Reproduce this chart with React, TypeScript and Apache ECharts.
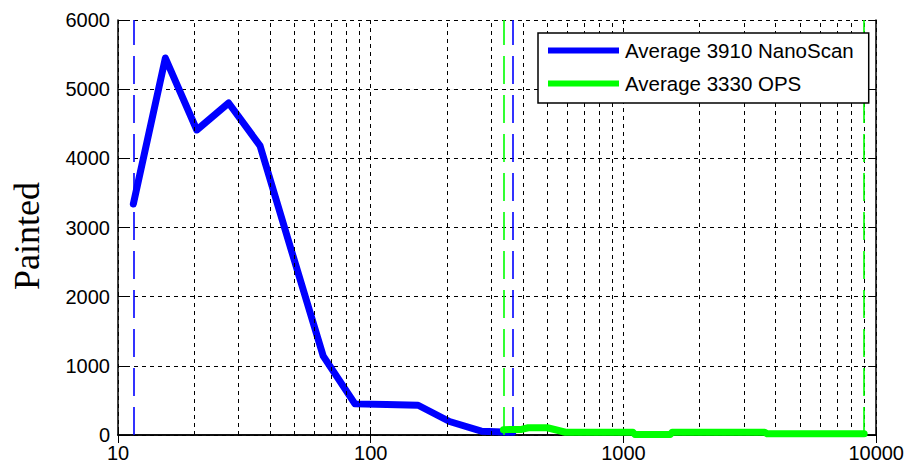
import React, { useEffect, useRef } from "react";
import * as echarts from "echarts";

// NanoScan (blue) channel midpoints (nm) and values
const nanoSizes = [11.5, 15.4, 20.5, 27.4, 36.5, 48.7, 64.9, 86.6, 115.5, 154, 205, 274, 365];
const nanoValues = [3340, 5450, 4410, 4800, 4180, 2650, 1140, 450, 440, 430, 195, 55, 40];

// OPS (green) sizes (nm) and values
const opsSizes = [335, 395, 420, 500, 590, 1090, 1110, 1530, 1560, 3620, 3700, 8960];
const opsValues = [77, 80, 105, 105, 40, 40, 7, 7, 40, 40, 19, 19];

// range markers (dashed verticals)
const nanoRange = [11.5, 365];
const opsRange = [335, 8960];

// log minor grid positions
const minorGrid = [20, 30, 40, 50, 60, 70, 80, 90, 200, 300, 400, 500, 600, 700, 800, 900, 2000, 3000, 4000, 5000, 6000, 7000, 8000, 9000];

const nanoName = "Average 3910 NanoScan";
const opsName = "Average 3330 OPS";
const yTitle = "Painted";

const sansFont = "'Liberation Sans', Arial, sans-serif";
const BLUE = "#0000ff";
const GREEN = "#00ff00";

export default function App() {
  const ref = useRef<HTMLDivElement>(null);
  useEffect(() => {
    if (!ref.current) return;
    const chart = echarts.init(ref.current, null, { renderer: "svg" });
    const nanoData = nanoSizes.map((s, i) => [s, nanoValues[i]]);
    const opsData = opsSizes.map((s, i) => [s, opsValues[i]]);
    const gridDash = { color: "#000", width: 1, type: [4, 4] as any, opacity: 1 };
    const rangeLine = (color: string) => ({ color, width: 1.6, type: [28, 11] as any, opacity: 1 });
    const fmt = (v: number) => String(v);
    const option: any = {
      animation: false,
      backgroundColor: "#fff",
      grid: { left: 118, right: 29, top: 20, bottom: 30, containLabel: false },
      graphic: [
        {
          type: "text",
          x: 27,
          y: 236,
          rotation: Math.PI / 2,
          style: {
            text: yTitle,
            font: "36px 'Liberation Serif', 'Times New Roman', serif",
            fill: "#000",
            align: "center",
            verticalAlign: "middle",
          },
        },
      ],
      legend: {
        data: [nanoName, opsName],
        orient: "vertical",
        left: 538,
        top: 33,
        padding: [7, 15, 9, 10],
        itemGap: 12,
        itemWidth: 71,
        itemHeight: 6,
        icon: "rect",
        selectedMode: false,
        backgroundColor: "#fff",
        borderColor: "#000",
        borderWidth: 1.5,
        borderRadius: 0,
        z: 10,
        textStyle: { fontFamily: sansFont, fontSize: 20.5, color: "#000", padding: [0, 0, 0, 1] },
      },
      xAxis: [
        {
          type: "log",
          logBase: 10,
          min: 10,
          max: 10000,
          axisLine: { show: true, lineStyle: { color: "#000", width: 1.5 } },
          axisTick: { show: true, inside: true, length: 8, lineStyle: { color: "#000" } },
          axisLabel: { fontFamily: sansFont, fontSize: 20, color: "#000", margin: 8, formatter: fmt },
          splitLine: { show: true, lineStyle: gridDash },
        },
        {
          type: "log",
          logBase: 10,
          min: 10,
          max: 10000,
          position: "top",
          axisLine: { show: true, lineStyle: { color: "#000", width: 1.5 } },
          axisTick: { show: true, inside: true, length: 8, lineStyle: { color: "#000" } },
          axisLabel: { show: false },
          splitLine: { show: false },
        },
      ],
      yAxis: [
        {
          type: "value",
          min: 0,
          max: 6000,
          interval: 1000,
          axisLine: { show: true, lineStyle: { color: "#000", width: 1.5 } },
          axisTick: { show: true, inside: true, length: 8, lineStyle: { color: "#000" } },
          axisLabel: { fontFamily: sansFont, fontSize: 20, color: "#000", margin: 8, formatter: fmt },
          splitLine: { show: true, lineStyle: gridDash },
        },
        {
          type: "value",
          min: 0,
          max: 6000,
          interval: 1000,
          position: "right",
          axisLine: { show: true, lineStyle: { color: "#000", width: 1.5 } },
          axisTick: { show: true, inside: true, length: 8, lineStyle: { color: "#000" } },
          axisLabel: { show: false },
          splitLine: { show: false },
        },
      ],
      series: [
        {
          name: "grid",
          type: "line",
          xAxisIndex: 0,
          yAxisIndex: 0,
          data: [],
          z: 1,
          silent: true,
          markLine: {
            silent: true,
            symbol: ["none", "none"],
            label: { show: false },
            lineStyle: gridDash,
            emphasis: { disabled: true },
            data: minorGrid.map((v) => ({ xAxis: v, lineStyle: gridDash })),
          },
        },
        {
          name: nanoName,
          type: "line",
          xAxisIndex: 0,
          yAxisIndex: 0,
          data: nanoData,
          showSymbol: false,
          symbol: "none",
          z: 4,
          color: BLUE,
          itemStyle: { color: BLUE },
          lineStyle: { color: BLUE, width: 7, cap: "round", join: "round" },
          markLine: {
            silent: true,
            symbol: ["none", "none"],
            label: { show: false },
            lineStyle: rangeLine(BLUE),
            emphasis: { disabled: true },
            data: nanoRange.map((v) => ({ xAxis: v, lineStyle: rangeLine(BLUE) })),
          },
        },
        {
          name: opsName,
          type: "line",
          xAxisIndex: 0,
          yAxisIndex: 0,
          data: opsData,
          showSymbol: false,
          symbol: "none",
          z: 5,
          color: GREEN,
          itemStyle: { color: GREEN },
          lineStyle: { color: GREEN, width: 7, cap: "round", join: "round" },
          markLine: {
            silent: true,
            symbol: ["none", "none"],
            label: { show: false },
            lineStyle: rangeLine(GREEN),
            emphasis: { disabled: true },
            data: opsRange.map((v) => ({ xAxis: v, lineStyle: rangeLine(GREEN) })),
          },
        },
      ],
    };
    chart.setOption(option);
    return () => chart.dispose();
  }, []);
  return (
    <div
      ref={ref}
      style={{ position: "absolute", left: 0, top: 0, width: 907, height: 465 }}
    />
  );
}
